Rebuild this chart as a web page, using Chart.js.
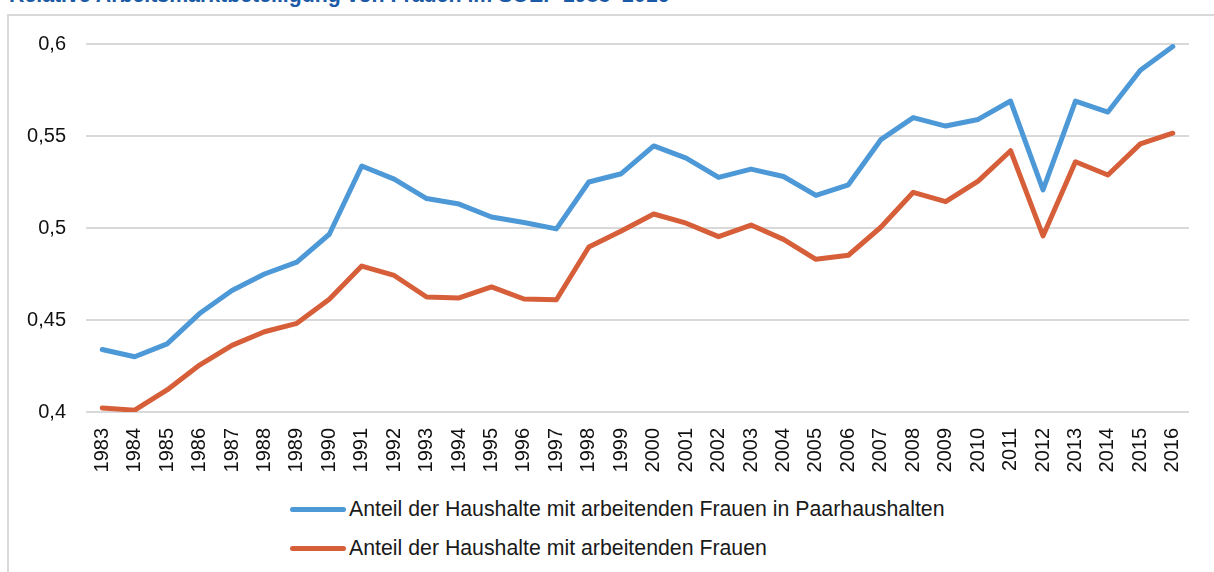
<!DOCTYPE html>
<html>
<head>
<meta charset="utf-8">
<script src="https://cdn.jsdelivr.net/npm/chart.js@4/dist/chart.umd.min.js"></script>
<style>
  html, body { margin: 0; padding: 0; background: #fff; }
  body { width: 1214px; height: 572px; position: relative; overflow: hidden; font-family: 'Liberation Sans', Arial, sans-serif; }
  #title { position: absolute; left: 9px; top: -17px; font-size: 21.3px; font-weight: bold; color: #1b5aa6; white-space: nowrap; }
  #frame { position: absolute; left: 7px; top: 14px; width: 1300px; height: 700px; border: 2px solid #d9d9d9; box-sizing: border-box; }
  #wrap { position: absolute; left: 0; top: 0; width: 1214px; height: 482px; }
  #legend { position: absolute; left: 290px; top: 490px; font-size: 21.3px; color: #1a1a1a; }
  .item { display: flex; align-items: center; height: 39px; }
  .swatch { width: 56px; height: 5px; border-radius: 3px; margin-right: 3px; }
</style>
</head>
<body>
<div id="title">Relative Arbeitsmarktbeteiligung von Frauen im SOEP 1983–2016</div>
<div id="frame"></div>
<div id="wrap"><canvas id="chart"></canvas></div>
<div id="legend"></div>
<script>
// ── DATA ────────────────────────────────────────────────────────────────────
const years = ['1983', '1984', '1985', '1986', '1987', '1988', '1989', '1990', '1991', '1992',
  '1993', '1994', '1995', '1996', '1997', '1998', '1999', '2000', '2001', '2002',
  '2003', '2004', '2005', '2006', '2007', '2008', '2009', '2010', '2011', '2012',
  '2013', '2014', '2015', '2016'];

const paarLabel = 'Anteil der Haushalte mit arbeitenden Frauen in Paarhaushalten';
const paarValues = [0.434, 0.430, 0.437, 0.4535, 0.466, 0.475, 0.4815, 0.4966, 0.5337, 0.5266,
  0.516, 0.513, 0.506, 0.503, 0.4995, 0.525, 0.5295, 0.5446, 0.538, 0.5275,
  0.532, 0.528, 0.5177, 0.5235, 0.548, 0.560, 0.5554, 0.559, 0.569, 0.5207,
  0.569, 0.563, 0.5857, 0.5986];

const alleLabel = 'Anteil der Haushalte mit arbeitenden Frauen';
const alleValues = [0.4022, 0.401, 0.412, 0.4255, 0.4362, 0.4436, 0.4482, 0.4613, 0.4793, 0.4742,
  0.4625, 0.462, 0.468, 0.4614, 0.461, 0.4897, 0.4984, 0.5076, 0.5026, 0.4953,
  0.5016, 0.4938, 0.483, 0.4852, 0.5004, 0.5194, 0.5143, 0.5255, 0.542, 0.4957,
  0.536, 0.5288, 0.5457, 0.5515];

const yTicks = [0.4, 0.45, 0.5, 0.55, 0.6];

const BLUE = '#4d98d6';
const RED = '#d65f3a';

// ── CHART ───────────────────────────────────────────────────────────────────
const fmt = v => String(+v.toFixed(2)).replace('.', ',');

const chart = new Chart(document.getElementById('chart').getContext('2d'), {
  type: 'line',
  data: {
    labels: years,
    datasets: [
      { label: paarLabel, data: paarValues, borderColor: BLUE, backgroundColor: BLUE },
      { label: alleLabel, data: alleValues, borderColor: RED, backgroundColor: RED }
    ]
  },
  options: {
    responsive: true, maintainAspectRatio: false, animation: false,
    layout: { padding: { top: 44, right: 25, left: 0, bottom: 0 } },
    elements: {
      line: { borderWidth: 5, tension: 0, borderCapStyle: 'round', borderJoinStyle: 'round' },
      point: { radius: 0, hoverRadius: 0 }
    },
    plugins: { legend: { display: false }, tooltip: { enabled: false } },
    scales: {
      x: {
        offset: true,
        grid: { display: false },
        border: { display: false },
        ticks: {
          color: '#111', font: { family: 'Liberation Sans', size: 20 },
          minRotation: 90, maxRotation: 90, autoSkip: false, padding: 8
        },
        afterFit(scale) { scale.height = 70; }
      },
      y: {
        min: 0.4, max: 0.6,
        afterBuildTicks(scale) { scale.ticks = yTicks.map(v => ({ value: v })); },
        grid: { color: '#d9d9d9', lineWidth: 2, drawTicks: false },
        border: { display: false },
        ticks: {
          color: '#111', font: { family: 'Liberation Sans', size: 20 }, padding: 20,
          callback: v => fmt(v)
        },
        afterFit(scale) { scale.width = 86; }
      }
    }
  }
});

// ── LEGEND ──────────────────────────────────────────────────────────────────
document.getElementById('legend').innerHTML = chart.data.datasets.map(ds =>
  `<div class="item"><div class="swatch" style="background:${ds.borderColor}"></div><span>${ds.label}</span></div>`
).join('');
</script>
</body>
</html>
